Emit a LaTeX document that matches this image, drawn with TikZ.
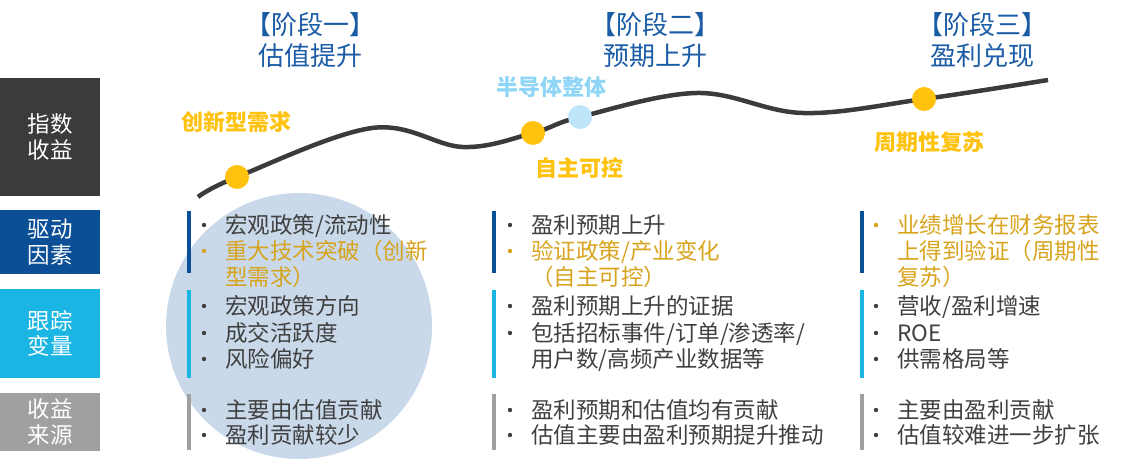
\documentclass[tikz,border=0pt]{standalone}
\usepackage{fontspec}
\setmainfont{Noto Sans CJK SC}
\usepackage{tikz}

\definecolor{idxgray}{HTML}{3B3B3B}
\definecolor{drvblue}{HTML}{0B4F97}
\definecolor{trkcyan}{HTML}{1BB5E3}
\definecolor{srcgray}{HTML}{A0A0A0}
\definecolor{hdrblue}{HTML}{1A5CA6}
\definecolor{txtgray}{HTML}{404040}
\definecolor{bodygold}{HTML}{D8A31C}
\definecolor{lblgold}{HTML}{FFC20E}
\definecolor{semiblue}{HTML}{8FD5F6}
\definecolor{semidot}{HTML}{BEE6F8}
\definecolor{circfill}{HTML}{C9D9E9}

\begin{document}
\begin{tikzpicture}[x=1pt, y=-1pt,
    lab/.style={text=white, align=center, inner sep=0pt, minimum width=100pt,
      font=\fontsize{22.5}{25.5}\selectfont},
    hdr/.style={text=hdrblue, align=center, inner sep=0pt,
      font=\fontsize{26}{31}\selectfont},
    tag/.style={inner sep=0pt, font=\fontsize{22}{26}\selectfont\bfseries},
    dot/.style={circle, inner sep=0pt, minimum size=24pt},
    body/.style={anchor=west, inner sep=0pt, text height=19.8pt, text depth=2.7pt,
      text=txtgray, font=\fontsize{22.5}{26}\selectfont},
    gold/.style={body, text=bodygold}
  ]
  \useasboundingbox (0,0) rectangle (1143,465);

  % the big circle behind stage one
  \fill[circfill] (299,326) circle (133pt);

  % row labels
  \node[lab, fill=idxgray, minimum height=118pt] (idx) at (50,137) {指数\\收益};
  \node[lab, fill=drvblue, minimum height=64pt] (drv) at (50,242) {驱动\\因素};
  \node[lab, fill=trkcyan, minimum height=89pt] (trk) at (50,333.5) {跟踪\\变量};
  \node[lab, fill=srcgray, minimum height=58pt] (src) at (50,422) {收益\\来源};

  % stage headers
  \node[hdr] (s1) at (310,40.5) {【阶段一】\\估值提升};
  \node[hdr] (s2) at (655,40.5) {【阶段二】\\预期上升};
  \node[hdr] (s3) at (982,40.5) {【阶段三】\\盈利兑现};

  % index curve
  \draw[idxgray, line width=4.5pt] plot[smooth, tension=0.6] coordinates
    {(198,197) (237,177) (372,128) (463,147) (533,133) (580,117)
     (697,93) (803,113) (924,99) (1048,80)};
  \node[dot, fill=lblgold] (d1) at (237,177) {};
  \node[dot, fill=lblgold] (d2) at (533,133) {};
  \node[dot, fill=semidot] (d3) at (580,117) {};
  \node[dot, fill=lblgold] (d4) at (924,99) {};

  \node[tag, text=lblgold] (t1) at (236,122) {创新型需求};
  \node[tag, text=semiblue] (t2) at (551,87) {半导体整体};
  \node[tag, text=lblgold] (t3) at (579,168) {自主可控};
  \node[tag, text=lblgold] (t4) at (929,142) {周期性复苏};

  % section bars and bullets
  \foreach \x in {189,494,862}{
    \draw[drvblue, line width=3.5pt] (\x,211) -- (\x,273);
    \draw[trkcyan, line width=3.5pt] (\x,290) -- (\x,378);
    \draw[srcgray, line width=3.5pt] (\x,394) -- (\x,450);
  }
  \foreach \x/\y in {204/225,204/306,204/333,204/359,204/410,204/435,
                     510/225,510/306,510/333,510/410,510/435,
                     876/306,876/333,876/359,876/410,876/435}
    \fill[txtgray] (\x,\y) circle (2.2pt);
  \foreach \x/\y in {204/251,510/251,876/225}
    \fill[bodygold] (\x,\y) circle (2.2pt);

  % stage one
  \node[body] (a1) at (225,225) {宏观政策/流动性};
  \node[gold] (a2) at (225,251) {重大技术突破（创新};
  \node[gold] (a3) at (225,277) {型需求）};
  \node[body] (a4) at (225,306) {宏观政策方向};
  \node[body] (a5) at (225,333) {成交活跃度};
  \node[body] (a6) at (225,359) {风险偏好};
  \node[body] (a7) at (225,410) {主要由估值贡献};
  \node[body] (a8) at (225,435) {盈利贡献较少};

  % stage two
  \node[body] (b1) at (531,225) {盈利预期上升};
  \node[gold] (b2) at (531,251) {验证政策/产业变化};
  \node[gold] (b3) at (531,277) {（自主可控）};
  \node[body] (b4) at (531,306) {盈利预期上升的证据};
  \node[body] (b5) at (531,333) {包括招标事件/订单/渗透率/};
  \node[body] (b6) at (531,359) {用户数/高频产业数据等};
  \node[body] (b7) at (531,410) {盈利预期和估值均有贡献};
  \node[body] (b8) at (531,435) {估值主要由盈利预期提升推动};

  % stage three
  \node[gold] (c1) at (897,225) {业绩增长在财务报表};
  \node[gold] (c2) at (897,251) {上得到验证（周期性};
  \node[gold] (c3) at (897,277) {复苏）};
  \node[body] (c4) at (897,306) {营收/盈利增速};
  \node[body] (c5) at (897,333) {ROE};
  \node[body] (c6) at (897,359) {供需格局等};
  \node[body] (c7) at (897,410) {主要由盈利贡献};
  \node[body] (c8) at (897,435) {估值较难进一步扩张};
\end{tikzpicture}
\end{document}
